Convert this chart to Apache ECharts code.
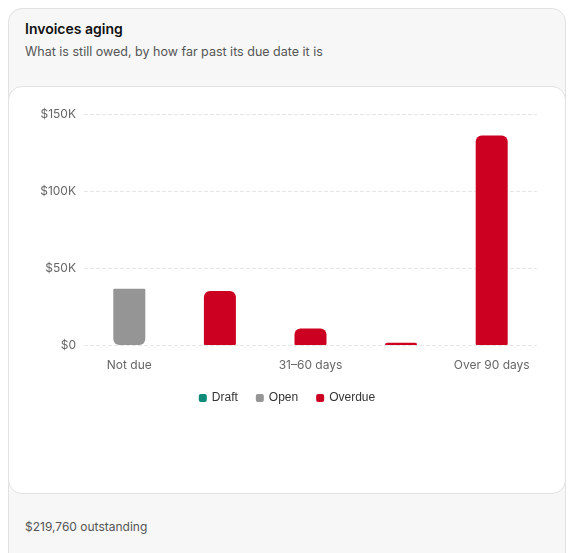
<!DOCTYPE html><html><head><meta charset="utf-8">
<script src="https://cdn.jsdelivr.net/npm/echarts@6/dist/echarts.min.js"></script>
<style>
body{margin:0;background:#fff;font-family:Inter,"Noto Sans",sans-serif;}
#card{position:absolute;left:8px;top:8px;width:556px;height:560px;border:1px solid #e2e2e2;border-radius:14px;background:#f7f7f7;}
#t{position:absolute;left:16px;top:11px;font-size:14px;font-weight:600;color:#111;}
#s{position:absolute;left:16px;top:35px;font-size:12.5px;color:#555;}
#panel{position:absolute;left:-1px;top:77px;width:556px;height:406px;background:#fff;border:1px solid #e2e2e2;border-radius:14px;}
#f{position:absolute;left:16px;top:510px;font-size:12px;color:#555;}
#c{position:absolute;left:0;top:0;width:556px;height:406px;}
</style></head><body>
<div id="card"><div id="t">Invoices aging</div><div id="s">What is still owed, by how far past its due date it is</div>
<div id="panel"><div id="c"></div></div><div id="f">$219,760 outstanding</div></div>
<script>
const categories=["Not due","1–30 days","31–60 days","61–90 days","Over 90 days"];
const draft=[0,0,0,0,0];
const open=[36500,0,0,0,0];
const overdue=[0,35000,10760,1500,136000];
const yTicks=["$0","$50K","$100K","$150K"];
const ch=echarts.init(document.getElementById('c'));
const txt={color:'#666',fontSize:12,fontFamily:'Inter'};
ch.setOption({
 animation:false,
 grid:{left:75,right:28,top:27,bottom:148},
 legend:{top:300,left:'center',icon:'roundRect',itemWidth:8,itemHeight:8,itemGap:18,textStyle:{color:'#333',fontSize:12},data:['Draft','Open','Overdue']},
 xAxis:{type:'category',data:categories,axisLine:{show:false},axisTick:{show:false},axisLabel:Object.assign({margin:14},txt)},
 yAxis:{type:'value',min:0,max:150000,interval:50000,axisLabel:Object.assign({formatter:v=>yTicks[v/50000]},txt),splitLine:{lineStyle:{type:'dashed',color:'#e6e6e6'}}},
 series:[
  {name:'Draft',type:'bar',stack:'a',data:draft,itemStyle:{color:'#0e8a78'},barWidth:32},
  {name:'Open',type:'bar',stack:'a',data:open,itemStyle:{color:'#959595',borderRadius:[1,1,6,6]}},
  {name:'Overdue',type:'bar',stack:'a',data:overdue,itemStyle:{color:'#cc0020',borderRadius:[6,6,1,1]}}
 ]
});
</script></body></html>
